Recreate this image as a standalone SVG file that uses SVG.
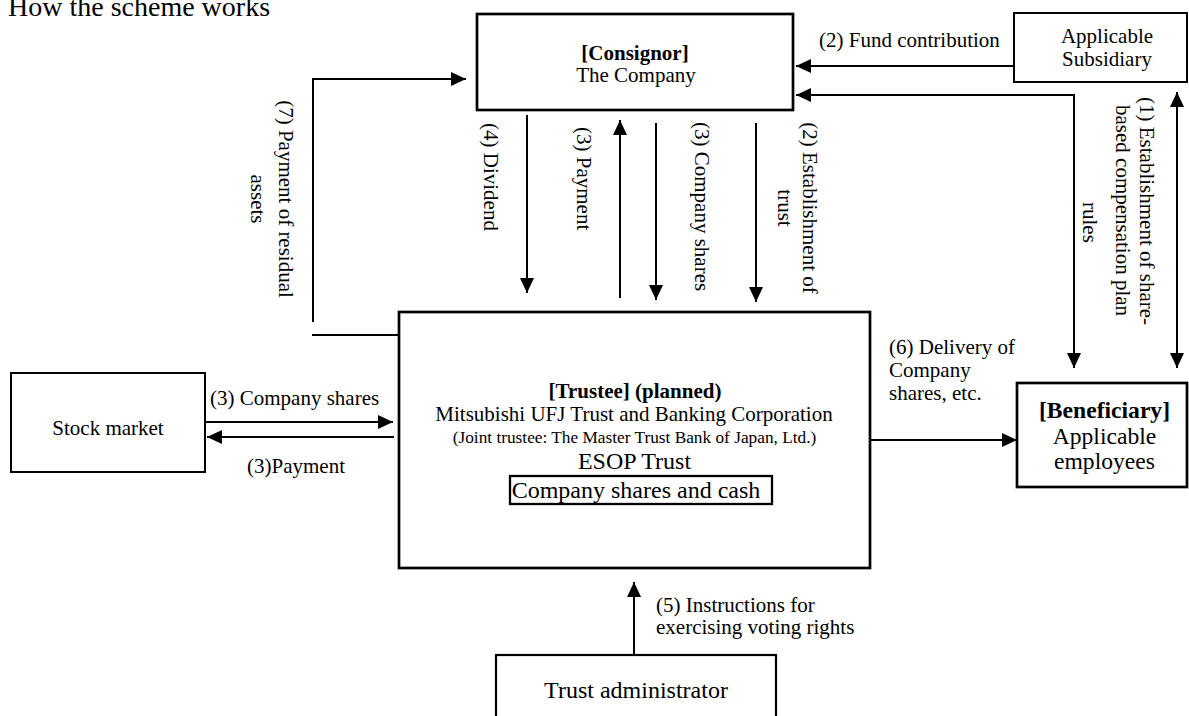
<svg xmlns="http://www.w3.org/2000/svg" width="1189" height="716" viewBox="0 0 1189 716">
<style>
.t{font-family:"Liberation Serif","Times New Roman",serif;fill:#000;font-size:21px}
.b{font-weight:bold}
.m{text-anchor:middle}
.box{fill:#fff;stroke:#000;stroke-width:2}
.thick{stroke-width:2.7}
.c{fill:none;stroke:#000;stroke-width:2}
.a{marker-end:url(#ah)}
.aa{marker-start:url(#ah);marker-end:url(#ah)}
</style>
<defs>
<marker id="ah" markerUnits="userSpaceOnUse" markerWidth="16" markerHeight="14" viewBox="0 0 16 14" refX="15" refY="7" orient="auto-start-reverse">
<path d="M0,0 L15,7 L0,14 Z" fill="#000"/>
</marker>
</defs>
<rect width="1189" height="716" fill="#fff"/>
<text class="t" x="8" y="16" style="font-size:28px">How the scheme works</text>

<g id="consignor">
<rect class="box thick" x="477" y="14" width="316" height="96"/>
<text class="t b m" x="635" y="59.5">[Consignor]</text>
<text class="t m" x="636" y="82">The Company</text>
</g>

<g id="subsidiary">
<rect class="box" x="1014" y="13" width="173" height="69"/>
<text class="t m" x="1107" y="43">Applicable</text>
<text class="t m" x="1107" y="66">Subsidiary</text>
</g>

<g id="trustee">
<rect class="box thick" x="399" y="312" width="471" height="256"/>
<text class="t b m" x="635" y="398">[Trustee] (planned)</text>
<text class="t m" x="634" y="421">Mitsubishi UFJ Trust and Banking Corporation</text>
<text class="t m" x="634.5" y="443" style="font-size:17.3px">(Joint trustee: The Master Trust Bank of Japan, Ltd.)</text>
<text class="t m" x="634.5" y="469" style="font-size:24px">ESOP Trust</text>
<rect class="box" x="510" y="476" width="262" height="28" style="stroke-width:2.3"/>
<text class="t m" x="636" y="498" style="font-size:24px">Company shares and cash</text>
</g>

<g id="stock-market">
<rect class="box" x="11" y="373" width="194" height="99"/>
<text class="t m" x="108" y="435">Stock market</text>
</g>

<g id="beneficiary">
<rect class="box thick" x="1017" y="383" width="170" height="104"/>
<text class="t b m" x="1104.5" y="418" style="font-size:23.6px">[Beneficiary]</text>
<text class="t m" x="1104.5" y="444" style="font-size:23.6px">Applicable</text>
<text class="t m" x="1104.5" y="469" style="font-size:23.6px">employees</text>
</g>

<g id="trust-administrator">
<rect class="box" x="496" y="655" width="280" height="80" style="stroke-width:2.2"/>
<text class="t m" x="636" y="698" style="font-size:24px">Trust administrator</text>
</g>

<g id="connectors">
<polyline class="c a" points="313,322 313,79 466,79"/>
<line class="c" x1="312" y1="335" x2="399" y2="335"/>
<line class="c a" x1="1014" y1="66" x2="796" y2="66"/>
<polyline class="c aa" points="1074,368 1074,95 796,95"/>
<line class="c aa" x1="1177" y1="368" x2="1177" y2="92"/>
<line class="c a" x1="527" y1="115" x2="527" y2="293"/>
<line class="c a" x1="620" y1="298" x2="620" y2="120"/>
<line class="c a" x1="656" y1="123" x2="656" y2="300"/>
<line class="c a" x1="756" y1="123" x2="756" y2="302"/>
<line class="c a" x1="206" y1="422" x2="393" y2="422"/>
<line class="c a" x1="394" y1="437" x2="207" y2="437"/>
<line class="c a" x1="870" y1="440" x2="1017" y2="440"/>
<line class="c a" x1="634" y1="655" x2="634" y2="582"/>
</g>

<g id="labels">
<text class="t" x="819" y="47">(2) Fund contribution</text>
<text class="t" x="210" y="405">(3) Company shares</text>
<text class="t" x="247" y="473">(3)Payment</text>
<text class="t" x="889" y="354">(6) Delivery of</text>
<text class="t" x="889" y="377">Company</text>
<text class="t" x="889" y="400">shares, etc.</text>
<text class="t" x="656" y="612">(5) Instructions for</text>
<text class="t" x="656" y="634">exercising voting rights</text>
<text class="t" transform="translate(484,123) rotate(90)">(4) Dividend</text>
<text class="t" transform="translate(577,127) rotate(90)">(3) Payment</text>
<text class="t" transform="translate(695,122) rotate(90)">(3) Company shares</text>
<text class="t m" transform="translate(803,208) rotate(90)">(2) Establishment of</text>
<text class="t m" transform="translate(778,208) rotate(90)">trust</text>
<text class="t m" transform="translate(279,199) rotate(90)">(7) Payment of residual</text>
<text class="t m" transform="translate(251,199) rotate(90)">assets</text>
<text class="t" transform="translate(1140,97) rotate(90)">(1) Establishment of share-</text>
<text class="t" transform="translate(1116,105) rotate(90)">based compensation plan</text>
<text class="t" transform="translate(1083,202) rotate(90)">rules</text>
</g>
</svg>
